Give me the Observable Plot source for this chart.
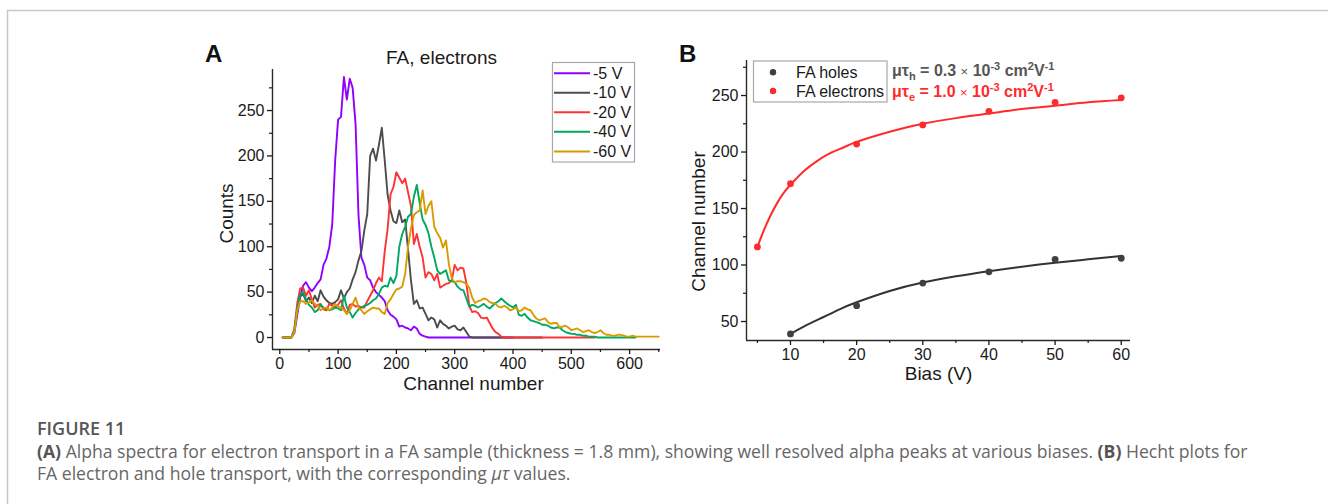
<!DOCTYPE html>
<html>
<head>
<meta charset="utf-8">
<script src="https://cdn.jsdelivr.net/npm/d3@7"></script>
<script src="https://cdn.jsdelivr.net/npm/@observablehq/plot@0.6"></script>
<style>
html, body { margin: 0; padding: 0; background: #fff; }
#page { position: relative; width: 1328px; height: 504px; overflow: hidden; background: #fff; }
#page > div { position: absolute; }
#overlay { position: absolute; left: 0; top: 0; }
</style>
</head>
<body>
<div id="page"></div>
<script>
// ---------- Panel A data: alpha spectra ----------
const seriesNames = ["-5 V", "-10 V", "-20 V", "-40 V", "-60 V"];
const seriesColors = ["#8f00ff", "#4d4d4d", "#ff3333", "#00a862", "#d99c00"];

const channels = [
  5,10,15,20,25,30,35,40,45,50,
  55,60,65,70,75,80,85,90,95,100,
  105,110,115,120,125,130,135,140,145,150,
  155,160,165,170,175,180,185,190,195,200,
  205,210,215,220,225,230,235,240,245,250,
  255,260,265,270,275,280,285,290,295,300,
  305,310,315,320,325,330,335,340,345,350,
  355,360,365,370,375,380,385,390,395,400,
  405,410,415,420,425,430,435,440,445,450,
  455,460,465,470,475,480,485,490,495,500,
  505,510,515,520,525,530,535,540,545,550,
  555,560,565,570,575,580,585,590,595,600,
  605,610,615,620,625,630,635,640,645,650
];

const counts5V = [
  0,0,0,0,5,25,45,57,61,55,
  51,55,60,64,80,87,100,125,195,240,
  243,287,262,285,275,235,135,88,80,66,
  63,55,50,47,44,40,30,25,23,20,
  12,13,11,10,8,12,10,4,2,1,
  0,0,0,0,0,0,0,0,0,0,
  0,0,0,0,0,0,0,0,0,0,
  0,0,0,0,0,0,0,0,0,0
];
const counts10V = [
  0,0,0,0,8,30,45,48,40,44,
  38,46,40,52,45,41,38,37,39,42,
  52,43,50,54,64,72,85,95,118,136,
  200,208,195,212,231,195,157,140,128,126,
  140,127,130,97,63,37,41,32,33,26,
  19,22,20,11,19,15,13,10,12,13,
  9,8,11,6,1,0,0,0,0,0,
  0,0,0,0,0,0,0,0,0,0,
  0,0,0,0,0,0,0,0,0,0
];
const counts20V = [
  0,0,0,0,10,38,54,55,46,52,
  42,33,36,37,31,30,37,35,33,36,
  41,32,26,36,37,34,35,33,33,40,
  46,52,60,66,62,95,120,158,166,182,
  176,170,175,160,145,103,114,100,88,66,
  72,70,63,70,55,57,59,60,63,80,
  74,77,76,60,35,28,29,27,22,21,
  22,16,10,6,4,1,0,0,0,0,
  0,0,0,0,0,0,0,0,0,0,
  0,0,0,0,0,0,0,0,0,0,
  0,0,0,0,0,0,0,0
];
const counts40V = [
  0,0,0,0,8,32,48,50,42,36,
  33,28,30,36,33,32,30,31,33,32,
  30,46,33,28,22,27,31,33,35,36,
  38,41,43,48,55,57,56,66,60,68,
  100,114,122,133,136,155,168,148,130,124,
  115,100,88,74,70,72,74,63,62,61,
  56,53,52,43,34,36,35,33,35,37,
  34,32,35,38,40,43,40,37,35,33,
  36,25,24,26,22,19,18,17,16,14,
  14,13,11,10,11,11,8,6,5,4,
  4,3,3,2,2,1,1,1,0,0,
  0,0,0,0,0,0,0,0,0,0,
  0,0
];
const counts60V = [
  0,0,0,0,6,30,40,40,37,39,
  41,37,35,30,32,33,30,33,37,34,
  33,30,26,30,37,44,33,30,26,29,
  31,33,32,32,28,26,38,42,48,53,
  54,56,70,100,120,135,138,140,162,136,
  145,150,122,115,110,99,107,81,65,61,
  62,62,61,59,55,44,38,40,41,43,
  42,39,38,37,34,33,35,33,30,31,
  33,29,30,33,31,30,25,21,19,20,
  21,17,15,16,16,11,12,13,11,8,
  9,10,8,6,7,8,6,5,6,8,
  5,3,3,2,2,3,3,2,1,1,
  2,1,1,1,1,1,1,1,1,1
];
const countsBySeries = [counts5V, counts10V, counts20V, counts40V, counts60V];

const xTicksA = [0, 100, 200, 300, 400, 500, 600];
const xMinorA = [50, 150, 250, 350, 450, 550, 650];
const yTicksA = [0, 50, 100, 150, 200, 250];
const yMinorA = [25, 75, 125, 175, 225, 275];

// ---------- Panel B data: Hecht plots ----------
const biasE = [5, 10, 20, 30, 40, 50, 60];
const chanE = [116, 172, 207, 224, 236, 244, 248];
const biasH = [10, 20, 30, 40, 50, 60];
const chanH = [39, 64, 84, 94, 105, 106];
// fitted curves
const fitBiasE = [5, 6, 7, 8, 9, 10, 12, 14, 16, 18, 20, 25, 30, 35, 40, 45, 50, 55, 60];
const fitChanE = [116, 131, 144, 155, 164, 171, 183, 192, 199, 204, 209, 218, 225, 230, 234, 238, 241, 244, 246];
const fitBiasH = [10, 12, 15, 17.5, 20, 25, 30, 35, 40, 45, 50, 55, 60];
const fitChanH = [39, 45.5, 54, 61, 67, 77, 84.5, 90, 94.5, 98.5, 102, 105, 108];
const xTicksB = [10, 20, 30, 40, 50, 60];
const xMinorB = [5, 15, 25, 35, 45, 55];
const yTicksB = [50, 100, 150, 200, 250];
const yMinorB = [75, 125, 175, 225, 275];
const legendB = ["FA holes", "FA electrons"];
const colorsB = ["#404040", "#ff2b2b"];

// ---------- build ----------
const page = document.getElementById("page");
function place(el, left, top) {
  const d = document.createElement("div");
  d.style.left = left + "px";
  d.style.top = top + "px";
  d.appendChild(el);
  page.appendChild(d);
}
const axisColor = "#2a2a2a";
const font = "'Liberation Sans', Arial, sans-serif";

const spectra = seriesNames.flatMap((name, k) =>
  countsBySeries[k].map((n, i) => ({series: name, ch: channels[i], n})));

const xDomA = [-12.5, 653];
const yDomA = [-13.2, 295.2];

const lbl = {lineAnchor: "middle", textAnchor: "middle", fontSize: 19};

const plotA = Plot.plot({
  width: 470, height: 360,
  marginLeft: 72, marginRight: 10, marginTop: 29, marginBottom: 51,
  style: {fontFamily: font, fontSize: "16px", color: "#1a1a1a", background: "transparent", overflow: "visible"},
  x: {domain: xDomA},
  y: {domain: yDomA},
  color: {domain: seriesNames, range: seriesColors},
  marks: [
    Plot.line(spectra, {x: "ch", y: "n", z: "series", stroke: "series", strokeWidth: 1.9}),
    Plot.ruleX([xDomA[0]], {stroke: axisColor, strokeWidth: 1.4}),
    Plot.ruleY([yDomA[0]], {stroke: axisColor, strokeWidth: 1.4}),
    Plot.axisX({ticks: xTicksA, tickSize: 5, tickPadding: 3, label: null, strokeWidth: 1.3, fontSize: 16}),
    Plot.axisX({ticks: xMinorA, tickSize: 3, tickFormat: () => "", label: null, strokeWidth: 1.2}),
    Plot.axisY({ticks: yTicksA, tickSize: 5, tickPadding: 3, label: null, strokeWidth: 1.3, fontSize: 16}),
    Plot.axisY({ticks: yMinorA, tickSize: 3, tickFormat: () => "", label: null, strokeWidth: 1.2}),
    Plot.text(["Counts"], {...lbl, text: d => d, frameAnchor: "left", dx: -46, dy: 4, rotate: -90}),
    Plot.text(["Channel number"], {...lbl, text: d => d, frameAnchor: "bottom", dx: 7, dy: 34}),
    Plot.text(["FA, electrons"], {...lbl, text: d => d, frameAnchor: "top", dx: -25, dy: -12})
  ]
});
place(plotA, 200, 40);

const xDomB = [3.35, 61.4];
const yDomB = [33.2, 281];
const fitE = fitBiasE.map((b, i) => ({b, c: fitChanE[i]}));
const fitH = fitBiasH.map((b, i) => ({b, c: fitChanH[i]}));
const ptsE = biasE.map((b, i) => ({b, c: chanE[i]}));
const ptsH = biasH.map((b, i) => ({b, c: chanH[i]}));

const plotB = Plot.plot({
  width: 480, height: 350,
  marginLeft: 76, marginRight: 20, marginTop: 20, marginBottom: 50,
  style: {fontFamily: font, fontSize: "16px", color: "#1a1a1a", background: "transparent", overflow: "visible"},
  x: {domain: xDomB},
  y: {domain: yDomB},
  marks: [
    Plot.line(fitH, {x: "b", y: "c", stroke: "#333", strokeWidth: 2, curve: "natural"}),
    Plot.line(fitE, {x: "b", y: "c", stroke: colorsB[1], strokeWidth: 2, curve: "natural"}),
    Plot.dot(ptsH, {x: "b", y: "c", r: 3.4, fill: colorsB[0]}),
    Plot.dot(ptsE, {x: "b", y: "c", r: 3.4, fill: colorsB[1]}),
    Plot.ruleX([xDomB[0]], {stroke: axisColor, strokeWidth: 1.4}),
    Plot.ruleY([yDomB[0]], {stroke: axisColor, strokeWidth: 1.4}),
    Plot.axisX({ticks: xTicksB, tickSize: 5, tickPadding: 3, label: null, strokeWidth: 1.3, fontSize: 16}),
    Plot.axisX({ticks: xMinorB, tickSize: 3, tickFormat: () => "", label: null, strokeWidth: 1.2}),
    Plot.axisY({ticks: yTicksB, tickSize: 5, tickPadding: 3, label: null, strokeWidth: 1.3, fontSize: 16}),
    Plot.axisY({ticks: yMinorB, tickSize: 3, tickFormat: () => "", label: null, strokeWidth: 1.2}),
    Plot.text(["Channel number"], {...lbl, text: d => d, frameAnchor: "left", dx: -48, dy: 21, rotate: -90}),
    Plot.text(["Bias (V)"], {...lbl, text: d => d, frameAnchor: "bottom", dy: 33})
  ]
});
place(plotB, 670, 40);

// ---------- overlay: borders, panel letters, legends, annotations, caption ----------
const svg = d3.select("#page").append("svg")
  .attr("id", "overlay").attr("width", 1328).attr("height", 504)
  .style("pointer-events", "none");

svg.append("path").attr("d", "M7.5,504 L7.5,10.5 L1328,10.5")
  .attr("fill", "none").attr("stroke", "#c6c6c6").attr("stroke-width", 1.5);

svg.append("text").attr("x", 205).attr("y", 62).text("A")
  .attr("font-family", font).attr("font-weight", "bold").attr("font-size", 24).attr("fill", "#111");
svg.append("text").attr("x", 679).attr("y", 62).text("B")
  .attr("font-family", font).attr("font-weight", "bold").attr("font-size", 24).attr("fill", "#111");

// legend A
const legA = svg.append("g");
legA.append("rect").attr("x", 552.5).attr("y", 62.5).attr("width", 82).attr("height", 99.5)
  .attr("fill", "#fff").attr("stroke", "#a8a8a8").attr("stroke-width", 1.2);
const legAy = [73.3, 92.7, 112.2, 131.7, 151.5];
seriesNames.forEach((name, i) => {
  legA.append("line").attr("x1", 554).attr("x2", 590).attr("y1", legAy[i]).attr("y2", legAy[i])
    .attr("stroke", seriesColors[i]).attr("stroke-width", 1.9);
  legA.append("text").attr("x", 593).attr("y", legAy[i] + 5.7).text(name)
    .attr("font-family", font).attr("font-size", 16).attr("fill", "#1a1a1a");
});

// legend B
const legB = svg.append("g");
legB.append("rect").attr("x", 753.5).attr("y", 61).attr("width", 133.5).attr("height", 41)
  .attr("fill", "#fff").attr("stroke", "#a8a8a8").attr("stroke-width", 1.2);
const legBy = [72.3, 91];
legendB.forEach((name, i) => {
  legB.append("circle").attr("cx", 773).attr("cy", legBy[i]).attr("r", 3.2).attr("fill", colorsB[i]);
  legB.append("text").attr("x", 796).attr("y", legBy[i] + 5.7).text(name)
    .attr("font-family", font).attr("font-size", 16).attr("fill", "#1a1a1a");
});

// annotations
function annot(y, sub, val, color) {
  const t = svg.append("text").attr("x", 892).attr("y", y)
    .attr("font-family", font).attr("font-weight", "bold").attr("font-size", 16).attr("fill", color);
  t.append("tspan").text("\u03bc\u03c4");
  t.append("tspan").attr("dy", 4).attr("font-size", 11).text(sub);
  t.append("tspan").attr("dy", -4).text(" = " + val + " ");
  t.append("tspan").attr("font-weight", "normal").attr("font-size", 13).text("\u00d7");
  t.append("tspan").text(" 10");
  t.append("tspan").attr("dy", -6).attr("font-size", 11).text("-3");
  t.append("tspan").attr("dy", 6).text(" cm");
  t.append("tspan").attr("dy", -6).attr("font-size", 11).text("2");
  t.append("tspan").attr("dy", 6).text("V");
  t.append("tspan").attr("dy", -6).attr("font-size", 11).text("-1");
}
annot(76, "h", "0.3", "#555");
annot(97, "e", "1.0", "#ff2b2b");

// caption
const capFont = "'Open Sans', 'Noto Sans', sans-serif";
svg.append("text").attr("x", 37).attr("y", 435).text("FIGURE 11")
  .attr("font-family", capFont).attr("font-weight", 600).attr("font-size", 18).attr("fill", "#555");
const c1 = svg.append("text").attr("x", 37).attr("y", 457.5)
  .attr("font-family", capFont).attr("font-size", 17.6).attr("fill", "#666");
c1.append("tspan").attr("font-weight", 700).attr("fill", "#555").text("(A)");
c1.append("tspan").text(" Alpha spectra for electron transport in a FA sample (thickness = 1.8 mm), showing well resolved alpha peaks at various biases. ");
c1.append("tspan").attr("font-weight", 700).attr("fill", "#555").text("(B)");
c1.append("tspan").text(" Hecht plots for");
const c2 = svg.append("text").attr("x", 37).attr("y", 479.5)
  .attr("font-family", capFont).attr("font-size", 17.6).attr("fill", "#666");
c2.append("tspan").text("FA electron and hole transport, with the corresponding ");
c2.append("tspan").attr("font-style", "italic").text("\u03bc\u03c4");
c2.append("tspan").text(" values.");
</script>
</body>
</html>
